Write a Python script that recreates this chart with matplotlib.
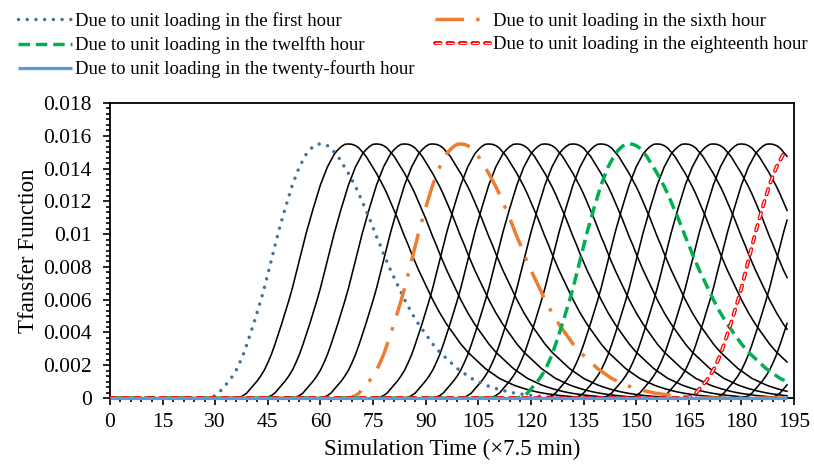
"""
Transfer function curves for unit loading in each hour of the day.
Each hourly response is the same unit response shifted by one hour (8 steps of 7.5 min).
"""

import numpy as np
import matplotlib
matplotlib.use("Agg")
import matplotlib.pyplot as plt
import matplotlib.patheffects as pe
from matplotlib.ticker import MultipleLocator, FuncFormatter

# ==== DATA ====
N_STEPS = 194          # simulation steps 0..193 (x 7.5 min)
STEPS_PER_HOUR = 8
N_HOURS = 24
RESPONSE_START = 28    # first non-zero step of the first-hour response

# response to a unit loading in the first hour, steps 28..128
UNIT_RESPONSE = [
    0.00000, 0.00005, 0.00015, 0.00030, 0.00055, 0.00080, 0.00105, 0.00135,
    0.00170, 0.00215, 0.00265, 0.00325, 0.00390, 0.00455, 0.00525, 0.00595,
    0.00670, 0.00755, 0.00840, 0.00925, 0.01010, 0.01085, 0.01160, 0.01230,
    0.01300, 0.01355, 0.01410, 0.01450, 0.01490, 0.01515, 0.01535, 0.01548,
    0.01550, 0.01548, 0.01540, 0.01525, 0.01500, 0.01475, 0.01440, 0.01405,
    0.01370, 0.01330, 0.01290, 0.01245, 0.01195, 0.01145, 0.01095, 0.01040,
    0.00985, 0.00935, 0.00880, 0.00830, 0.00780, 0.00735, 0.00690, 0.00645,
    0.00600, 0.00560, 0.00520, 0.00485, 0.00450, 0.00420, 0.00390, 0.00360,
    0.00330, 0.00305, 0.00280, 0.00260, 0.00240, 0.00220, 0.00200, 0.00180,
    0.00165, 0.00150, 0.00135, 0.00120, 0.00110, 0.00100, 0.00090, 0.00080,
    0.00072, 0.00065, 0.00058, 0.00052, 0.00046, 0.00041, 0.00036, 0.00032,
    0.00028, 0.00025, 0.00022, 0.00019, 0.00016, 0.00014, 0.00012, 0.00010,
    0.00008, 0.00006, 0.00004, 0.00002, 0.00000,
]

HIGHLIGHT_HOURS = [1, 6, 12, 18, 24]
HIGHLIGHT_LABELS = [
    "Due to unit loading in the first hour",
    "Due to unit loading in the sixth hour",
    "Due to unit loading in the twelfth hour",
    "Due to unit loading in the eighteenth hour",
    "Due to unit loading in the twenty-fourth hour",
]

# ==== STYLE ====
plt.rcParams["font.family"] = ["Liberation Serif", "DejaVu Serif"]
TICK_FONTSIZE = 15.5
AXIS_FONTSIZE = 16.5
LEGEND_FONTSIZE = 13.5

steps = np.arange(N_STEPS)
unit = np.array(UNIT_RESPONSE)


def hourly_response(hour):
    y = np.zeros(N_STEPS)
    start = RESPONSE_START + (hour - 1) * STEPS_PER_HOUR
    if start < N_STEPS:
        n = min(len(unit), N_STEPS - start)
        y[start:start + n] = unit[:n]
    return y


fig = plt.figure(figsize=(8.14, 4.65), dpi=100)
ax = fig.add_axes([0.135, 0.144, 0.8405, 0.6345])

# black curves for the other hours
for h in range(1, N_HOURS + 1):
    if h in HIGHLIGHT_HOURS:
        continue
    ax.plot(steps, hourly_response(h), color="black", linewidth=1.15, zorder=2)

handles = {}
handles[1], = ax.plot(steps, hourly_response(1), color="#41719C", linewidth=2.5,
                      dashes=(0.01, 2.5), dash_capstyle="round", zorder=3)
handles[6], = ax.plot(steps, hourly_response(6), color="#ED7D31", linewidth=2.5,
                      dashes=(8.2, 3.5, 1.0, 3.5), dash_capstyle="butt", zorder=3)
handles[12], = ax.plot(steps, hourly_response(12), color="#00B050", linewidth=2.5,
                       dashes=(3.3, 1.7), zorder=3)
handles[18], = ax.plot(steps, hourly_response(18), color="white", linewidth=0.9,
                       dashes=(4.5, 5.5), dash_capstyle="round", zorder=3,
                       path_effects=[pe.Stroke(linewidth=2.8, foreground="#FF0000",
                                               capstyle="round"), pe.Normal()])
handles[24], = ax.plot(steps, hourly_response(24), color="#5B9BD5", linewidth=2.3,
                       solid_capstyle="butt", zorder=3, clip_on=False)

# axes
ax.set_xlim(0, 195)
ax.set_ylim(0, 0.018)
ax.xaxis.set_major_locator(MultipleLocator(15))
ax.xaxis.set_minor_locator(MultipleLocator(3))
ax.yaxis.set_major_locator(MultipleLocator(0.002))
ax.yaxis.set_minor_locator(MultipleLocator(0.002 / 6))
ax.yaxis.set_major_formatter(FuncFormatter(lambda v, _: "0" if abs(v) < 1e-12 else f"{v:.3f}".rstrip("0")))
ax.tick_params(which="major", direction="out", length=5, width=1.2, labelsize=TICK_FONTSIZE)
ax.tick_params(which="minor", direction="out", length=3, width=1.2)
ax.tick_params(axis="x", pad=6)
ax.tick_params(axis="y", pad=8)
for s in ax.spines.values():
    s.set_linewidth(1.3)

ax.set_xlabel("Simulation Time (\u00d77.5 min)", fontsize=AXIS_FONTSIZE, labelpad=5)
ax.set_ylabel("Tfansfer Function", fontsize=AXIS_FONTSIZE, labelpad=3)

# legend, filled row by row
order = [1, 12, 24, 6, 18]
labels = {h: lab for h, lab in zip(HIGHLIGHT_HOURS, HIGHLIGHT_LABELS)}
fig.legend([handles[h] for h in order], [labels[h] for h in order],
           ncol=2, loc="upper left", bbox_to_anchor=(0.013, 0.99),
           borderaxespad=0, frameon=False, fontsize=LEGEND_FONTSIZE,
           handlelength=2.9, handletextpad=0.15, columnspacing=1.1,
           labelspacing=0.33)

fig.savefig("out.png", dpi=100)
